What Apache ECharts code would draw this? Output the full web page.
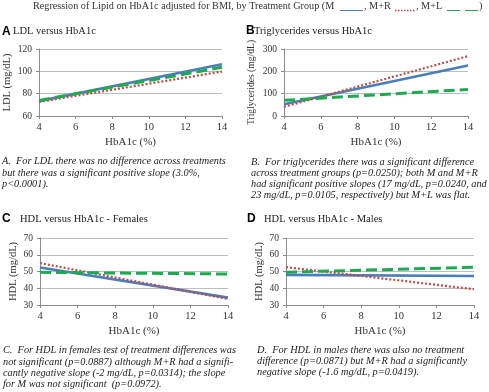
<!DOCTYPE html>
<html>
<head>
<meta charset="utf-8">
<script src="https://cdn.jsdelivr.net/npm/echarts@6/dist/echarts.min.js"></script>
<style>
html,body{margin:0;padding:0;background:#fff;}
#chart{width:489px;height:392px;}
</style>
</head>
<body>
<div id="chart"></div>
<script>
// ---- data ----
var hba1c = [4, 14];
var xTicks = [4, 6, 8, 10, 12, 14];
var seriesNames = ['M', 'M+R', 'M+L'];

// Panel A: LDL (mg/dL)
var ldl_M  = [73.3, 106.3];
var ldl_MR = [72.6, 99.8];
var ldl_ML = [74.0, 103.6];

// Panel B: Triglycerides (mg/dL)
var tg_M  = [53, 226];
var tg_MR = [41, 268];
var tg_ML = [70, 119];

// Panel C: HDL females (mg/dL)
var hdlF_M  = [52.4, 34.4];
var hdlF_MR = [55.0, 33.6];
var hdlF_ML = [49.5, 48.5];

// Panel D: HDL males (mg/dL)
var hdlM_M  = [48.0, 47.3];
var hdlM_MR = [52.6, 39.4];
var hdlM_ML = [49.6, 52.5];

var panelTitles = ['LDL versus HbA1c', 'Triglycerides versus HbA1c', 'HDL versus HbA1c - Females', 'HDL versus HbA1c - Males'];
var panelLetters = ['A', 'B', 'C', 'D'];
var yNames = ['LDL (mg/dL)', 'Triglycerides (mg/dL)', 'HDL (mg/dL)', 'HDL (mg/dL)'];
var yMin = [60, 0, 30, 30];
var yMax = [120, 300, 70, 70];
var yInterval = [20, 100, 10, 10];
var captions = [
  'A.  For LDL there was no difference across treatments\nbut there was a significant positive slope (3.0%,\np<0.0001).',
  'B.  For triglycerides there was a significant difference\nacross treatment groups (p=0.0250); both M and M+R\nhad significant positive slopes (17 mg/dL, p=0.0240, and\n23 mg/dL, p=0.0105, respectively) but M+L was flat.',
  'C.  For HDL in females test of treatment differences was\nnot significant (p=0.0887) although M+R had a signifi-\ncantly negative slope (-2 mg/dL, p=0.0314); the slope\nfor M was not significant  (p=0.0972).',
  'D.  For HDL in males there was also no treatment\ndifference (p=0.0871) but M+R had a significantly\nnegative slope (-1.6 mg/dL, p=0.0419).'
];
var mainTitle = 'Regression of Lipid on HbA1c adjusted for BMI, by Treatment Group (M';

var panelData = [
  [ldl_M, ldl_MR, ldl_ML],
  [tg_M, tg_MR, tg_ML],
  [hdlF_M, hdlF_MR, hdlF_ML],
  [hdlM_M, hdlM_MR, hdlM_ML]
];

// ---- styles ----
var SERIF = '"Liberation Serif", "Times New Roman", serif';
var BLUE = '#4A7EBB', RED = '#BE4B48', GREEN = '#22A852';
var lineStyles = [
  {color: BLUE, width: 2.6, type: 'solid'},
  {color: RED, width: 2.2, type: [2, 2], cap: 'butt'},
  {color: GREEN, width: 3, type: [11, 5], cap: 'butt'}
];

var grids = [
  {left: 39, top: 49, width: 183, height: 67},
  {left: 284, top: 49, width: 184, height: 67},
  {left: 40, top: 238, width: 188, height: 67},
  {left: 286, top: 238, width: 188, height: 67}
];
var yNameGaps = [26, 28, 21, 21.5];
var yNameSizes = [10.5, 9.6, 10.5, 10.5];

var option = {
  animation: false,
  backgroundColor: '#fff',
  grid: grids.map(function (g) {
    return Object.assign({containLabel: false, outerBoundsMode: 'none'}, g);
  }),
  xAxis: grids.map(function (g, i) {
    return {
      type: 'value', gridIndex: i, min: 4, max: 14, interval: 2,
      name: 'HbA1c (%)', nameLocation: 'middle', nameGap: 21,
      nameTextStyle: {fontFamily: SERIF, fontSize: 11, color: '#333'},
      axisLine: {show: true, onZero: false, lineStyle: {color: '#8C8C8C', width: 1}},
      axisTick: {show: true, length: 3, lineStyle: {color: '#8C8C8C'}},
      axisLabel: {fontFamily: SERIF, fontSize: 10.5, color: '#333', margin: 6,
        formatter: function (v) { return xTicks.indexOf(v) >= 0 ? String(v) : ''; }},
      splitLine: {show: false}
    };
  }),
  yAxis: grids.map(function (g, i) {
    return {
      type: 'value', gridIndex: i, min: yMin[i], max: yMax[i], interval: yInterval[i],
      name: yNames[i], nameLocation: 'middle', nameGap: yNameGaps[i],
      nameTextStyle: {fontFamily: SERIF, fontSize: yNameSizes[i], color: '#333'},
      axisLine: {show: true, lineStyle: {color: '#8C8C8C', width: 1}},
      axisTick: {show: true, length: 3, lineStyle: {color: '#8C8C8C'}},
      axisLabel: {fontFamily: SERIF, fontSize: 9.5, color: '#333', margin: 7},
      splitLine: {show: true, lineStyle: {color: '#BDBDBD', width: 1}}
    };
  }),
  series: [],
  graphic: []
};

panelData.forEach(function (set, p) {
  set.forEach(function (vals, s) {
    option.series.push({
      name: seriesNames[s], type: 'line', xAxisIndex: p, yAxisIndex: p,
      showSymbol: false, symbol: 'none', silent: true,
      lineStyle: lineStyles[s],
      data: hba1c.map(function (x, k) { return [x, vals[k]]; })
    });
  });
});

// ---- text decorations ----
var G = option.graphic;
var TF = '10.2px ' + SERIF;
G.push({type: 'text', left: 33, top: 1, style: {text: mainTitle, font: TF, fill: '#333'}});
G.push({type: 'line', shape: {x1: 340, y1: 10.5, x2: 363, y2: 10.5}, style: {stroke: BLUE, lineWidth: 1}});
G.push({type: 'text', left: 364, top: 1, style: {text: ', M+R', font: TF, fill: '#333'}});
G.push({type: 'line', shape: {x1: 395, y1: 10.5, x2: 415, y2: 10.5}, style: {stroke: RED, lineWidth: 1.5, lineDash: [1.5, 1.5]}});
G.push({type: 'text', left: 416, top: 1, style: {text: ', M+L', font: TF, fill: '#333'}});
G.push({type: 'line', shape: {x1: 447, y1: 10.5, x2: 460, y2: 10.5}, style: {stroke: GREEN, lineWidth: 1}});
G.push({type: 'line', shape: {x1: 465, y1: 10.5, x2: 478, y2: 10.5}, style: {stroke: GREEN, lineWidth: 1}});
G.push({type: 'text', left: 479, top: 1, style: {text: ')', font: TF, fill: '#333'}});

var letterPos = [[2, 31.5], [246, 31], [2, 219], [247, 219]];
var titlePos = [[13, 31.5], [254, 31], [20, 219], [264, 219]];
var captionPos = [[2, 156], [251, 156.5], [3, 345], [257, 344.5]];
for (var i = 0; i < 4; i++) {
  G.push({type: 'text', x: letterPos[i][0], y: letterPos[i][1],
    style: {text: panelLetters[i], font: 'bold 12px "Liberation Sans", Arial, sans-serif', fill: '#000', textVerticalAlign: 'middle'}});
  G.push({type: 'text', x: titlePos[i][0], y: titlePos[i][1],
    style: {text: panelTitles[i], font: '10.5px ' + SERIF, fill: '#222', textVerticalAlign: 'middle'}});
  G.push({type: 'text', x: captionPos[i][0], y: captionPos[i][1],
    style: {text: captions[i], font: 'italic 10.3px ' + SERIF, fill: '#222', lineHeight: 11.2, textVerticalAlign: 'top'}});
}

var chart = echarts.init(document.getElementById('chart'), null, {renderer: 'canvas'});
chart.setOption(option);
</script>
</body>
</html>
